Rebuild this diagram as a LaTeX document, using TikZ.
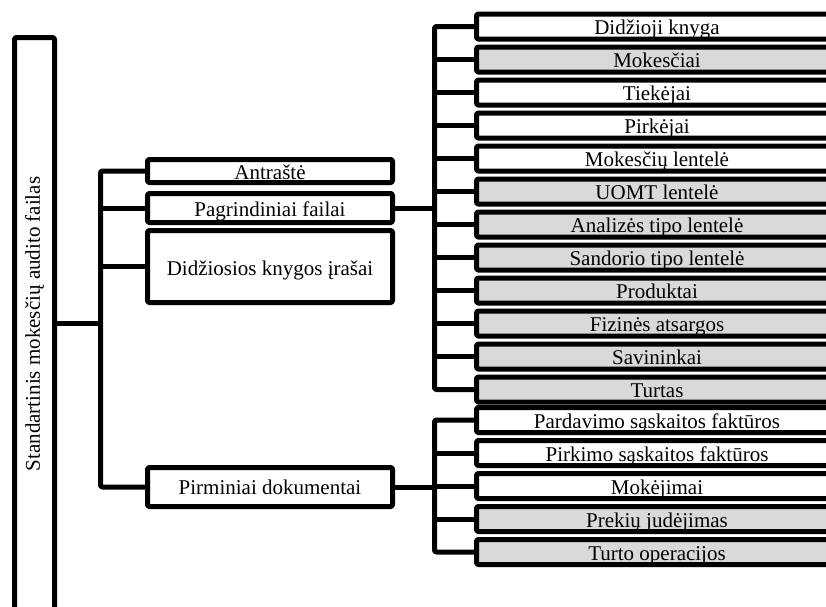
\documentclass[tikz,border=0pt]{standalone}
\usepackage{fontspec}
\setmainfont{Liberation Serif}
\definecolor{boxgray}{HTML}{D9D9D9}
\tikzset{
  lw/.style={line width=5pt, line join=round},
  box/.style={lw, draw=black, rounded corners=1.5pt, inner sep=0pt, font=\fontsize{21}{24}\selectfont, text height=16pt, text depth=0pt, anchor=center},
  mid/.style={box, fill=white, minimum width=245pt},
  rw/.style={box, fill=white, minimum width=361pt, minimum height=25pt},
  rg/.style={rw, fill=boxgray},
  conn/.style={lw, draw=black, rounded corners=2pt}
}
\begin{document}
\begin{tikzpicture}[x=1pt,y=-1pt]
\useasboundingbox (0,0) rectangle (826,606);
\clip (0,0) rectangle (826,606);
% root
\node[box, fill=white, minimum width=40pt, minimum height=610pt] (root) at (34.5,342.5) {};
\node[font=\fontsize{21}{24}\selectfont, rotate=90, inner sep=0pt] (rootlabel) at (34.5,324) {Standartinis mokesčių audito failas};
% middle
\node[mid, minimum height=23pt, text height=16pt] (antr) at (270,171) {Antraštė};
\node[mid, minimum height=29pt, text height=17pt] (pagr) at (270,208) {Pagrindiniai failai};
\node[mid, minimum height=72pt, text height=18pt] (didz) at (270,266.5) {Didžiosios knygos įrašai};
\node[mid, minimum height=39pt, text height=15pt] (pirm) at (270,487) {Pirminiai dokumentai};
% right top group
\node[rw] (r1) at (657,26.5) {Didžioji knyga};
\node[rg] (r2) at (657,59.5) {Mokesčiai};
\node[rw] (r3) at (657,92.5) {Tiekėjai};
\node[rw] (r4) at (657,125.5) {Pirkėjai};
\node[rw] (r5) at (657,158.5) {Mokesčių lentelė};
\node[rg] (r6) at (657,191.5) {UOMT lentelė};
\node[rg] (r7) at (657,224.5) {Analizės tipo lentelė};
\node[rg] (r8) at (657,257.5) {Sandorio tipo lentelė};
\node[rg] (r9) at (657,290.5) {Produktai};
\node[rg] (r10) at (657,323.5) {Fizinės atsargos};
\node[rg] (r11) at (657,356.5) {Savininkai};
\node[rg] (r12) at (657,389.5) {Turtas};
% right bottom group
\node[rw] (p1) at (657,420) {Pardavimo sąskaitos faktūros};
\node[rw] (p2) at (657,453) {Pirkimo sąskaitos faktūros};
\node[rw] (p3) at (657,486) {Mokėjimai};
\node[rg] (p4) at (657,519) {Prekių judėjimas};
\node[rg] (p5) at (657,552) {Turto operacijos};
% trunks
\coordinate (tA) at (100.5,323);
\coordinate (tB) at (434.5,208);
\coordinate (tC) at (434.5,487);
\draw[conn] (root.east |- tA) -- (tA);
\draw[conn] (antr.west) -- (antr.west -| tA) -- (pirm.west -| tA) -- (pirm.west);
\draw[conn] (pagr.west) -- (pagr.west -| tA);
\draw[conn] (didz.west) -- (didz.west -| tA);
\draw[conn] (pagr.east |- tB) -- (tB);
\draw[conn] (r1.west) -- (r1.west -| tB) -- (r12.west -| tB) -- (r12.west);
\foreach \n in {r2,r3,r4,r5,r6,r7,r8,r9,r10,r11}{\draw[conn] (\n.west) -- (\n.west -| tB);}
\draw[conn] (pirm.east |- tC) -- (tC);
\draw[conn] (p1.west) -- (p1.west -| tC) -- (p5.west -| tC) -- (p5.west);
\foreach \n in {p2,p3,p4}{\draw[conn] (\n.west) -- (\n.west -| tC);}
\end{tikzpicture}
\end{document}
